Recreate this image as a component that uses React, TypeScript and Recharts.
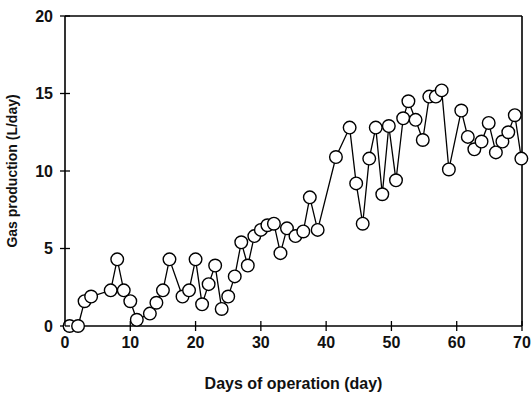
import { LineChart, Line, XAxis, YAxis, ReferenceLine, Label } from "recharts";

// days of operation (read off the scan, not always whole days)
const days = [
  0.7, 2, 3, 4, 7, 8, 9, 10, 11, 13, 14, 15, 16, 18, 19, 20, 21, 22, 23, 24, 25, 26, 27, 28, 29, 30,
  31, 32, 33, 34, 35.3, 36.5, 37.5, 38.7, 41.5, 43.6, 44.6, 45.6, 46.6, 47.6, 48.6, 49.6, 50.7, 51.8,
  52.6, 53.7, 54.8, 55.8, 56.8, 57.7, 58.8, 60.7, 61.7, 62.7, 63.8, 64.9, 66, 67, 67.9, 68.9, 69.9,
];

// gas production, L/day
const gas = [
  0, 0, 1.6, 1.9, 2.3, 4.3, 2.3, 1.6, 0.4, 0.8, 1.5, 2.3, 4.3, 1.9, 2.3, 4.3, 1.4, 2.7, 3.9, 1.1, 1.9,
  3.2, 5.4, 3.9, 5.8, 6.2, 6.5, 6.6, 4.7, 6.3, 5.8, 6.1, 8.3, 6.2, 10.9, 12.8, 9.2, 6.6, 10.8, 12.8,
  8.5, 12.9, 9.4, 13.4, 14.5, 13.3, 12.0, 14.8, 14.8, 15.2, 10.1, 13.9, 12.2, 11.4, 11.9, 13.1, 11.2,
  11.9, 12.5, 13.6, 10.8,
];

const xTicks = [0, 10, 20, 30, 40, 50, 60, 70];
const yTicks = [0, 5, 10, 15, 20];

const rows = days.map((d, i) => ({ day: d, gas: gas[i] }));

const FONT = "'Liberation Sans', Arial, Helvetica, sans-serif";
const TICK = 5;
const X_MARGIN = 6;
const Y_MARGIN = 7;

function XTick({ x, y, payload }: any) {
  const axisY = y - TICK - X_MARGIN;
  return (
    <g>
      <line x1={x} x2={x} y1={axisY - TICK} y2={axisY} stroke="#000" strokeWidth={1.3} />
      <text x={x} y={y} dy="0.71em" textAnchor="middle" fontSize={16} fontWeight="bold" fill="#111" fontFamily={FONT}>
        {payload.value}
      </text>
    </g>
  );
}

function YTick({ x, y, payload }: any) {
  const axisX = x + TICK + Y_MARGIN;
  return (
    <g>
      <line x1={axisX} x2={axisX + TICK} y1={y} y2={y} stroke="#000" strokeWidth={1.3} />
      <text x={x} y={y} dy="0.355em" textAnchor="end" fontSize={16} fontWeight="bold" fill="#111" fontFamily={FONT}>
        {payload.value}
      </text>
    </g>
  );
}

function Ring({ cx, cy }: any) {
  if (cx == null || cy == null) return null;
  return <circle cx={cx} cy={cy} r={6.3} fill="#fff" stroke="#000" strokeWidth={1.4} />;
}

export default function App() {
  return (
    <div style={{ position: "absolute", left: 0, top: 0, background: "#fff" }}>
      <LineChart width={531} height={394} data={rows} margin={{ top: 16, right: 9, bottom: 0, left: 0 }}>
        <XAxis
          dataKey="day"
          type="number"
          domain={[0, 70]}
          ticks={xTicks}
          height={68}
          tickSize={TICK}
          tickMargin={X_MARGIN}
          axisLine={{ stroke: "#000", strokeWidth: 1.6 }}
          tickLine={{ stroke: "#000", strokeWidth: 1.3 }}
          tick={<XTick />}
          interval={0}
        >
          <Label
            value="Days of operation (day)"
            position="insideBottom"
            offset={5}
            style={{ fontSize: 16, fontWeight: "bold", fill: "#111", fontFamily: FONT }}
          />
        </XAxis>
        <YAxis
          type="number"
          domain={[0, 20]}
          ticks={yTicks}
          width={65}
          tickSize={TICK}
          tickMargin={Y_MARGIN}
          axisLine={{ stroke: "#000", strokeWidth: 1.6 }}
          tickLine={{ stroke: "#000", strokeWidth: 1.3 }}
          tick={<YTick />}
          interval={0}
        >
          <Label
            value="Gas production (L/day)"
            position="insideLeft"
            angle={-90}
            offset={12}
            style={{ fontSize: 14, fontWeight: "bold", fill: "#111", fontFamily: FONT, textAnchor: "middle" }}
          />
        </YAxis>
        <ReferenceLine y={20} stroke="#000" strokeWidth={1.4} />
        <ReferenceLine x={70} stroke="#000" strokeWidth={1.6} />
        <Line
          dataKey="gas"
          type="linear"
          stroke="#000"
          strokeWidth={1.3}
          dot={<Ring />}
          activeDot={false}
          isAnimationActive={false}
        />
      </LineChart>
    </div>
  );
}
